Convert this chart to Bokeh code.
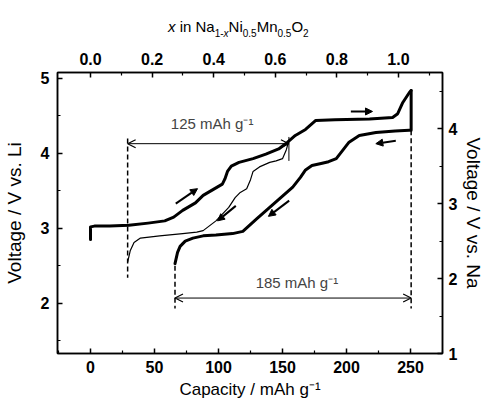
from bokeh.plotting import figure
from bokeh.models import (Range1d, LinearAxis, FixedTicker, Arrow, OpenHead,
                          NormalHead, Label, PrintfTickFormatter, Div)
from bokeh.layouts import column
from bokeh.embed import file_html
from bokeh.resources import INLINE

# ---------------- data ----------------
# first charge (thick), capacity in mAh/g, voltage vs Li
charge_cap = [0, 0, 3, 15, 30, 45, 58, 65, 72, 82, 88, 96, 103, 105, 107, 110, 116,
              127, 137, 147, 154, 160, 168, 176, 191, 218, 236, 240, 244, 249, 250.5]
charge_v = [2.85, 3.02, 3.03, 3.03, 3.04, 3.07, 3.10, 3.15, 3.24, 3.34, 3.44, 3.52, 3.59, 3.66,
            3.76, 3.83, 3.88, 3.93, 3.99, 4.06, 4.15, 4.24, 4.32, 4.44, 4.45, 4.46, 4.48,
            4.53, 4.68, 4.81, 4.84]
# discharge after 4.8 V charge (thick)
discharge_cap = [250.5, 250.5, 249, 238, 223, 210, 202, 197, 192, 186, 181, 173, 168, 164,
                 158, 150, 140, 130, 119, 111, 98, 88, 80, 74, 70, 68, 66]
discharge_v = [4.84, 4.31, 4.31, 4.30, 4.28, 4.24, 4.15, 4.04, 3.93, 3.89, 3.87, 3.84, 3.78,
               3.68, 3.55, 3.43, 3.28, 3.13, 2.96, 2.93, 2.91, 2.90, 2.87, 2.83, 2.76, 2.68, 2.53]
# discharge after charge to 125 mAh/g (thin)
thin_cap = [155, 153, 150, 145, 140, 132, 127, 125, 122, 117, 113, 108, 98, 88, 83, 72, 54,
            39, 34, 31, 29]
thin_v = [4.17, 4.05, 3.93, 3.90, 3.88, 3.82, 3.76, 3.65, 3.53, 3.48, 3.41, 3.28, 3.10, 2.97,
          2.95, 2.93, 2.90, 2.87, 2.81, 2.70, 2.55]

cap_ticks = [0, 50, 100, 150, 200, 250]
cap_minor = [-25, 25, 75, 125, 175, 225, 275]
li_ticks = [2, 3, 4, 5]
li_minor = [1.5, 2.5, 3.5, 4.5]
na_ticks = [1, 2, 3, 4]
na_minor = [1.5, 2.5, 3.5, 4.5]
x_ticks = [0.0, 0.2, 0.4, 0.6, 0.8, 1.0]
x_minor = [0.1, 0.3, 0.5, 0.7, 0.9, 1.1]
theoretical_cap = 240.6
li_na_offset = 0.33

label_small = "125 mAh g\u207b\u00b9"
label_large = "185 mAh g\u207b\u00b9"

# ---------------- layout ----------------
FONT = "Liberation Sans"
XR = (-25.8, 275.0)
YR = (1.33, 5.08)
FW, FH = 385, 281
DIV_H = 42

sub = "<span style='font-size:10px; position:relative; top:5px;'>"
title_html = (
    "<div style=\"padding-left:168px; padding-top:19px; font-family:'Liberation Sans'; "
    "font-size:15px; line-height:15px; white-space:nowrap; color:black;\">"
    "<i>x</i> in Na" + sub + "1-<i>x</i></span>"
    "Ni" + sub + "0.5</span>"
    "Mn" + sub + "0.5</span>"
    "O" + sub + "2</span></div>"
)
title = Div(text=title_html, width=480, height=DIV_H, margin=(0, 0, 0, 0))

p = figure(frame_width=FW, frame_height=FH, x_range=Range1d(*XR), y_range=Range1d(*YR),
           output_backend="svg", toolbar_location=None,
           min_border_left=55, min_border_right=41, min_border_top=72 - DIV_H,
           min_border_bottom=44,
           background_fill_color="white", border_fill_color="white")
p.grid.visible = False
p.outline_line_color = "black"
p.outline_line_width = 1.5

p.extra_y_ranges = {"na": Range1d(YR[0] - li_na_offset, YR[1] - li_na_offset)}
p.extra_x_ranges = {"frac": Range1d(XR[0] / theoretical_cap, XR[1] / theoretical_cap)}

right = LinearAxis(y_range_name="na", axis_label="Voltage / V vs. Na")
top = LinearAxis(x_range_name="frac")
p.add_layout(right, "right")
p.add_layout(top, "above")
bottom = p.below[0]
left = p.left[0]

bottom.ticker = FixedTicker(ticks=cap_ticks, minor_ticks=cap_minor)
bottom.axis_label = "Capacity / mAh g\u207b\u00b9"
left.ticker = FixedTicker(ticks=li_ticks, minor_ticks=li_minor)
left.axis_label = "Voltage / V vs. Li"
right.ticker = FixedTicker(ticks=na_ticks, minor_ticks=na_minor)
top.ticker = FixedTicker(ticks=x_ticks, minor_ticks=x_minor)
top.formatter = PrintfTickFormatter(format="%.1f")

for ax in [bottom, left, right, top]:
    ax.major_tick_in = 5
    ax.major_tick_out = 0
    ax.minor_tick_in = 3
    ax.minor_tick_out = 0
    ax.axis_line_width = 1.5
    ax.major_tick_line_width = 1.5
    ax.minor_tick_line_width = 1.2
    ax.axis_line_color = "black"
    ax.major_tick_line_color = "black"
    ax.minor_tick_line_color = "black"
    ax.major_label_text_font = FONT
    ax.major_label_text_font_style = "bold"
    ax.major_label_text_font_size = "16px"
    ax.major_label_text_color = "black"
    ax.axis_label_text_font = FONT
    ax.axis_label_text_font_style = "normal"
    ax.axis_label_text_color = "black"

bottom.major_label_standoff = 7
bottom.axis_label_standoff = 4
bottom.axis_label_text_font_size = "17px"
left.major_label_standoff = 8
left.axis_label_standoff = 13
left.axis_label_text_font_size = "19px"
right.major_label_standoff = 6
right.axis_label_standoff = 3
right.axis_label_text_font_size = "19px"
top.major_label_standoff = 8

# ---------------- curves ----------------
p.line(thin_cap, thin_v, line_color="black", line_width=1.2, line_join="round")
p.line(charge_cap, charge_v, line_color="black", line_width=3, line_join="round", line_cap="round")
p.line(discharge_cap, discharge_v, line_color="black", line_width=3, line_join="round", line_cap="round")

# ---------------- capacity markers ----------------
c0 = thin_cap[-1]
c1 = thin_cap[0]
d0 = discharge_cap[-1]
d1 = discharge_cap[0]
p.segment(x0=[c0, d0, d1], y0=[4.20, 2.50, 4.31], x1=[c0, d0, d1], y1=[2.34, 1.93, 1.93],
          line_color="black", line_width=1.5, line_dash="5 3")
p.segment(x0=[c1], y0=[3.90], x1=[c1], y1=[4.22], line_color="black", line_width=1)

p.add_layout(Arrow(x_start=c0, y_start=4.13, x_end=c1, y_end=4.13, line_width=1,
                   start=OpenHead(size=8, line_width=1.2), end=OpenHead(size=8, line_width=1.2)))
p.add_layout(Arrow(x_start=d0, y_start=2.07, x_end=d1, y_end=2.07, line_width=1,
                   start=OpenHead(size=8, line_width=1.2), end=OpenHead(size=8, line_width=1.2)))

p.add_layout(Label(x=(c0 + c1) / 2 + 3, y=4.40, text=label_small, text_align="center",
                   text_baseline="middle", text_font=FONT, text_font_size="15px"))
p.add_layout(Label(x=(d0 + d1) / 2 + 3, y=2.28, text=label_large, text_align="center",
                   text_baseline="middle", text_font=FONT, text_font_size="15px"))

# ---------------- direction arrows ----------------
dir_arrows = [((66.6, 3.33), (83.6, 3.53)),
              ((113.5, 3.30), (99.2, 3.10)),
              ((155.2, 3.37), (139.0, 3.16)),
              ((203.4, 4.56), (220.3, 4.56)),
              ((238.5, 4.17), (222.9, 4.13))]
for (xs, ys), (xe, ye) in dir_arrows:
    p.add_layout(Arrow(x_start=xs, y_start=ys, x_end=xe, y_end=ye, line_width=2,
                       end=NormalHead(size=7, fill_color="black", line_color="black", line_width=1)))

layout = column(title, p, spacing=0)
open("out.html", "w").write(file_html(layout, INLINE))
